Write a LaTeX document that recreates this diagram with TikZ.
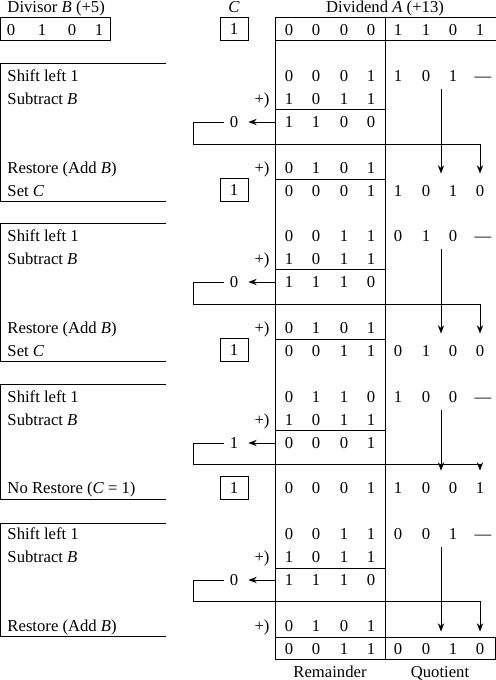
\documentclass[tikz,border=0pt]{standalone}
\usepackage{fontspec}
\setmainfont{Liberation Serif}
\usetikzlibrary{arrows.meta}
\begin{document}
\begin{tikzpicture}[x=0.6pt, y=-0.6pt, line width=0.6pt,
  every node/.style={font=\fontsize{10}{12}\selectfont, text depth=0pt},
  lbl/.style={anchor=west, inner xsep=0pt},
  cbox/.style={draw, minimum width=16.8pt, minimum height=13.5pt, inner sep=0pt},
  feed/.style={-{Stealth[length=5pt, width=3.8pt]}},
  into/.style={feed, shorten >=3.5pt}]
\useasboundingbox (0,0) rectangle (496,680);
\coordinate (regL) at (275,17) ; % Remainder.left
\coordinate (regM) at (385,17) ; % Quotient.left

\node[lbl] (divisor) at (7,7) {Divisor \textit{B} (+5)};
\node (ctitle) at (234,7) {\textit{C}};
\node (dividend) at (385,7) {Dividend \textit{A} (+13)};
\draw (0.6,17) rectangle (110,40) ; % Divisor
\path (11,30) node (b1) {0} (42,30) node (b2) {1} (72,30) node (b3) {0} (99,30) node (b4) {1} ;
\node[cbox] (c0) at (234,29) {1};
\draw (regL) -- (496,17) ; \draw (275,40) -- (496,40) ;
\draw (regL) -- (275,659) ; \draw (regM) -- (385,659) ;
\path (289,30) node (a1) {0} (316,30) node (a2) {0} (344,30) node (a3) {0} (371,30) node (a4) {0} (398,30) node (a5) {1} (426,30) node (a6) {1} (453,30) node (a7) {0} (480,30) node (a8) {1} ;

% Step.1
\draw (166,63) -- (0.6,63) -- (0.6,201) -- (166,201) ;
\node[lbl] (shift1) at (7,76) {Shift left 1};
\node[lbl] (sub1) at (7,99) {Subtract \textit{B}};
\node[lbl] (rest1) at (7,168) {Restore (Add \textit{B})};
\node[lbl] (set1) at (7,191) {Set \textit{C}};
\path (289,76) node (sh1-1) {0} (316,76) node (sh1-2) {0} (344,76) node (sh1-3) {0} (371,76) node (sh1-4) {1} (398,76) node (sh1-5) {1} (426,76) node (sh1-6) {0} (453,76) node (sh1-7) {1} (483,79) node (sh1-8) {---} ;
\path (262,99) node (pl1-1) {+)} (289,99) node (sb1-1) {1} (316,99) node (sb1-2) {0} (344,99) node (sb1-3) {1} (371,99) node (sb1-4) {1} ;
\draw (275,109) -- (385,109) ;
\path (234,122) node (cy1) {0} (289,122) node (df1-1) {1} (316,122) node (df1-2) {1} (344,122) node (df1-3) {0} (371,122) node (df1-4) {0} ;
\path (262,168) node (pl1-2) {+)} (289,168) node (ad1-1) {0} (316,168) node (ad1-2) {1} (344,168) node (ad1-3) {0} (371,168) node (ad1-4) {1} ;
\draw (275,179) -- (385,179) ;
\node[cbox] (c1) at (234,190) {1};
\path (289,191) node (rs1-1) {0} (316,191) node (rs1-2) {0} (344,191) node (rs1-3) {0} (371,191) node (rs1-4) {1} (398,191) node (rs1-5) {1} (426,191) node (rs1-6) {0} (453,191) node (rs1-7) {1} (480,191) node (rs1-8) {0} ;
\coordinate (loop1) at (193,144) ; \coordinate (drop1) at (441,89) ;
\draw[feed, shorten >=2.5pt] (regL |- cy1) -- (cy1) ;
\draw[into] (cy1.west) -| (loop1) -| (rs1-8.north) ;
\draw[into] (drop1) -- (drop1 |- rs1-8.north) ;

% Step.2
\draw (166,223) -- (0.6,223) -- (0.6,361) -- (166,361) ;
\node[lbl] (shift2) at (7,236) {Shift left 1};
\node[lbl] (sub2) at (7,259) {Subtract \textit{B}};
\node[lbl] (rest2) at (7,328) {Restore (Add \textit{B})};
\node[lbl] (set2) at (7,351) {Set \textit{C}};
\path (289,236) node (sh2-1) {0} (316,236) node (sh2-2) {0} (344,236) node (sh2-3) {1} (371,236) node (sh2-4) {1} (398,236) node (sh2-5) {0} (426,236) node (sh2-6) {1} (453,236) node (sh2-7) {0} (483,239) node (sh2-8) {---} ;
\path (262,259) node (pl2-1) {+)} (289,259) node (sb2-1) {1} (316,259) node (sb2-2) {0} (344,259) node (sb2-3) {1} (371,259) node (sb2-4) {1} ;
\draw (275,269) -- (385,269) ;
\path (234,282) node (cy2) {0} (289,282) node (df2-1) {1} (316,282) node (df2-2) {1} (344,282) node (df2-3) {1} (371,282) node (df2-4) {0} ;
\path (262,328) node (pl2-2) {+)} (289,328) node (ad2-1) {0} (316,328) node (ad2-2) {1} (344,328) node (ad2-3) {0} (371,328) node (ad2-4) {1} ;
\draw (275,339) -- (385,339) ;
\node[cbox] (c2) at (234,350) {1};
\path (289,351) node (rs2-1) {0} (316,351) node (rs2-2) {0} (344,351) node (rs2-3) {1} (371,351) node (rs2-4) {1} (398,351) node (rs2-5) {0} (426,351) node (rs2-6) {1} (453,351) node (rs2-7) {0} (480,351) node (rs2-8) {0} ;
\coordinate (loop2) at (193,304) ; \coordinate (drop2) at (441,249) ;
\draw[feed, shorten >=2.5pt] (regL |- cy2) -- (cy2) ;
\draw[into] (cy2.west) -| (loop2) -| (rs2-8.north) ;
\draw[into] (drop2) -- (drop2 |- rs2-8.north) ;

% Step.3
\draw (166,384) -- (0.6,384) -- (0.6,499) -- (166,499) ;
\node[lbl] (shift3) at (7,397) {Shift left 1};
\node[lbl] (sub3) at (7,420) {Subtract \textit{B}};
\node[lbl] (norest3) at (7,488) {No Restore (\textit{C} = 1)};
\path (289,397) node (sh3-1) {0} (316,397) node (sh3-2) {1} (344,397) node (sh3-3) {1} (371,397) node (sh3-4) {0} (398,397) node (sh3-5) {1} (426,397) node (sh3-6) {0} (453,397) node (sh3-7) {0} (483,400) node (sh3-8) {---} ;
\path (262,420) node (pl3-1) {+)} (289,420) node (sb3-1) {1} (316,420) node (sb3-2) {0} (344,420) node (sb3-3) {1} (371,420) node (sb3-4) {1} ;
\draw (275,430) -- (385,430) ;
\path (234,443) node (cy3) {1} (289,443) node (df3-1) {0} (316,443) node (df3-2) {0} (344,443) node (df3-3) {0} (371,443) node (df3-4) {1} ;
\node[cbox] (c3) at (234,488) {1};
\path (289,488) node (rs3-1) {0} (316,488) node (rs3-2) {0} (344,488) node (rs3-3) {0} (371,488) node (rs3-4) {1} (398,488) node (rs3-5) {1} (426,488) node (rs3-6) {0} (453,488) node (rs3-7) {0} (480,488) node (rs3-8) {1} ;
\coordinate (loop3) at (193,464) ; \coordinate (drop3) at (441,410) ;
\draw[feed, shorten >=2.5pt] (regL |- cy3) -- (cy3) ;
\draw[into] (cy3.west) -| (loop3) -| (rs3-8.north) ;
\draw[into] (drop3) -- (drop3 |- rs3-8.north) ;

% Step.4
\draw (166,523) -- (0.6,523) -- (0.6,636) -- (166,636) ;
\node[lbl] (shift4) at (7,534) {Shift left 1};
\node[lbl] (sub4) at (7,557) {Subtract \textit{B}};
\node[lbl] (rest4) at (7,626) {Restore (Add \textit{B})};
\path (289,534) node (sh4-1) {0} (316,534) node (sh4-2) {0} (344,534) node (sh4-3) {1} (371,534) node (sh4-4) {1} (398,534) node (sh4-5) {0} (426,534) node (sh4-6) {0} (453,534) node (sh4-7) {1} (483,537) node (sh4-8) {---} ;
\path (262,557) node (pl4-1) {+)} (289,557) node (sb4-1) {1} (316,557) node (sb4-2) {0} (344,557) node (sb4-3) {1} (371,557) node (sb4-4) {1} ;
\draw (275,568) -- (385,568) ;
\path (234,580) node (cy4) {0} (289,580) node (df4-1) {1} (316,580) node (df4-2) {1} (344,580) node (df4-3) {1} (371,580) node (df4-4) {0} ;
\path (262,626) node (pl4-2) {+)} (289,626) node (ad4-1) {0} (316,626) node (ad4-2) {1} (344,626) node (ad4-3) {0} (371,626) node (ad4-4) {1} ;
\draw (275,637) -- (495.4,637) -- (495.4,659) -- (275,659) ; % result
\path (289,649) node (rs4-1) {0} (316,649) node (rs4-2) {0} (344,649) node (rs4-3) {1} (371,649) node (rs4-4) {1} (398,649) node (rs4-5) {0} (426,649) node (rs4-6) {0} (453,649) node (rs4-7) {1} (480,649) node (rs4-8) {0} ;
\coordinate (loop4) at (193,601) ; \coordinate (drop4) at (441,547) ;
\draw[feed, shorten >=2.5pt] (regL |- cy4) -- (cy4) ;
\draw[into] (cy4.west) -| (loop4) -| (rs4-8.north) ;
\draw[into] (drop4) -- (drop4 |- rs4-8.north) ;

\node (remainder) at (330,672) {Remainder};
\node (quotient) at (440,672) {Quotient};
\end{tikzpicture}
\end{document}
